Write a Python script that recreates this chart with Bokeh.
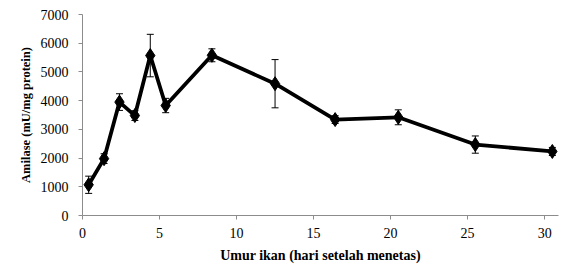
from bokeh.plotting import figure
from bokeh.models import ColumnDataSource, Range1d, FixedTicker, Whisker, TeeHead
from bokeh.embed import file_html
from bokeh.resources import INLINE

# Data
days = [0.4, 1.4, 2.4, 3.4, 4.4, 5.4, 8.4, 12.5, 16.4, 20.5, 25.5, 30.5]
amilase = [1070, 1980, 3950, 3480, 5570, 3830, 5580, 4590, 3340, 3420, 2470, 2230]
sd = [300, 170, 290, 170, 740, 250, 225, 840, 135, 260, 300, 140]
x_ticks = [0, 5, 10, 15, 20, 25, 30]
y_ticks = [0, 1000, 2000, 3000, 4000, 5000, 6000, 7000]

upper = [a + s for a, s in zip(amilase, sd)]
lower = [a - s for a, s in zip(amilase, sd)]
src = ColumnDataSource(dict(x=days, y=amilase, upper=upper, lower=lower))

FONT = "Liberation Serif"
AX = "#8c8c8c"

p = figure(width=563, height=265, output_backend="svg", toolbar_location=None,
           x_range=Range1d(0, 30.9), y_range=Range1d(0, 7000),
           min_border_left=82, min_border_right=5, min_border_top=14, min_border_bottom=50)
p.outline_line_color = None
p.xgrid.visible = False
p.ygrid.visible = False
p.background_fill_color = "white"
p.border_fill_color = "white"

w = Whisker(source=src, base="x", upper="upper", lower="lower",
            line_color="black", line_width=1,
            upper_head=TeeHead(size=7, line_color="black", line_width=1),
            lower_head=TeeHead(size=7, line_color="black", line_width=1))
p.add_layout(w)

p.line("x", "y", source=src, line_color="black", line_width=3.8)
p.scatter("x", "y", source=src, marker="diamond", size=14, fill_color="black", line_color="black")

p.xaxis.ticker = FixedTicker(ticks=x_ticks)
p.yaxis.ticker = FixedTicker(ticks=y_ticks)
for ax in (p.xaxis[0], p.yaxis[0]):
    ax.axis_line_color = AX
    ax.major_tick_line_color = AX
    ax.major_tick_out = 4
    ax.major_tick_in = 0
    ax.minor_tick_line_color = None
    ax.major_label_text_font = FONT
    ax.major_label_text_font_size = "14px"
    ax.major_label_text_color = "black"
    ax.axis_label_text_font = FONT
    ax.axis_label_text_font_style = "bold"
    ax.axis_label_text_color = "black"

p.xaxis.axis_label = "Umur ikan (hari setelah menetas)"
p.xaxis.axis_label_text_font_size = "14px"
p.xaxis.major_label_standoff = 8
p.xaxis.axis_label_standoff = 7
p.yaxis.axis_label = "Amilase (mU/mg protein)"
p.yaxis.axis_label_text_font_size = "12.5px"
p.yaxis.major_label_standoff = 10
p.yaxis.axis_label_standoff = 5

open("out.html", "w").write(file_html(p, INLINE))
